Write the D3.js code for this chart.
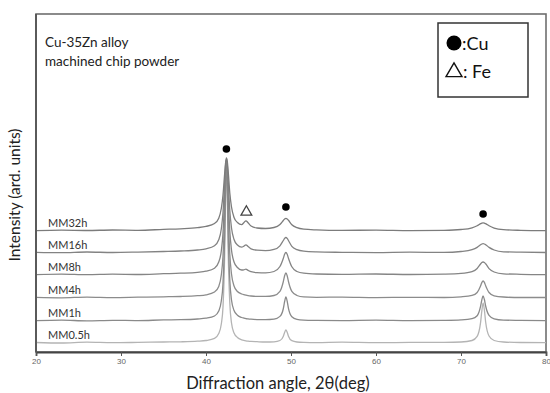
<!DOCTYPE html>
<html><head><meta charset="utf-8">
<script src="https://cdn.jsdelivr.net/npm/d3@7"></script>
<style>body{margin:0;background:#fff} svg{display:block}</style>
</head><body><svg id="c" width="550" height="393"></svg>
<script>
// 2theta sample positions (deg)
const angles = [20,23,26,29,32,35,37,39,40,41,41.5,41.8,42.0,42.2,42.3,42.4,42.5,42.6,42.8,43.0,43.3,43.7,44.2,44.45,44.7,44.95,45.3,46,47,48,48.7,49.1,49.25,49.4,49.55,49.7,50.1,50.7,51.5,53,56,60,64,68,70,71.3,71.9,72.3,72.45,72.6,72.75,72.9,73.3,73.9,75,77,80];
const seriesNames = ["MM0.5h","MM1h","MM4h","MM8h","MM16h","MM32h"];
const seriesOffsets = [9,31,54,77,99,121];
const seriesColors = ["#b4b4b4","#8a8a8a","#8c8c8c","#858585","#838383","#7c7c7c"];
const mm05 = [0.5,0,0.8,0.3,0.6,1,1.2,1.8,2.5,4.6,9.5,19,36,90,144,180,150,95,40,20,10,5.5,3.2,2.6,2.2,1.9,1.6,1.3,1.0,1.2,2.5,6.8,10.6,13.2,10.8,6.8,2.3,1.0,0.6,0.4,0.8,0.3,0.6,0.7,1.0,2.5,6.6,20.3,32,40,33,21,7,2.5,1,0.5,0.4];
const mm1 = [0.3,0.8,0.2,0.7,0.4,1.1,1.3,2,2.8,5,10,20,37.5,87,132,159,135,92,41,21,10.5,5.8,3.5,2.9,2.4,2.1,1.8,1.4,1.3,1.8,4.6,12.5,19.5,24,19.8,12.6,4.2,1.6,0.9,0.6,0.4,0.8,0.3,0.6,1.1,2.3,5.2,14.6,21,25,21.5,15,5.6,2.2,0.9,0.6,0.3];
const mm4 = [0.6,0.2,0.9,0.4,0.8,1.2,1.5,2.3,3.2,6,11.6,23,42,86,119,137,122,90,44,24,12,6.5,4,3.3,2.8,2.4,2,1.6,1.6,2.5,6.6,16.5,22.2,25.2,22.3,16.5,6.6,2.5,1.1,0.7,0.9,0.4,0.7,0.5,1.2,2.6,5.5,12,15.4,17,15.6,12.3,5.5,2.2,1,0.5,0.5];
const mm8 = [0.4,0.9,0.3,0.8,0.5,1.3,1.8,2.7,3.8,6.8,13,24,42,80,103.5,115,105,83,44,25,13,7.5,5,5.2,5.8,4.7,3.3,2.4,2.2,3.5,8.5,16.8,20.8,22.5,20.8,16.8,8.2,3.5,1.8,1,0.6,1,0.5,0.9,1.6,3.4,6.5,11,12.5,13,12.5,11.2,6.4,3,1.2,0.7,0.4];
const mm16 = [0.7,0.3,1,0.5,0.9,1.5,2,3,4.2,7.2,13.2,24,40.5,71,87,94,89,74,42.5,25,13.5,8,5.8,6.8,8.2,6.5,4.2,2.8,2.4,3.6,7.2,12.5,14.6,15.5,14.6,12.5,6.7,3.3,1.8,1.1,0.7,0.4,0.8,0.6,1.5,3.3,5.6,8.2,9,9.3,9,8.3,5.6,3,1.2,0.8,0.5];
const mm32 = [0.3,0.8,0.5,1,0.7,1.6,2.2,3.3,4.6,7.5,12.8,22.5,36,58,68,73,70,61,38,24,13.5,8.5,6.3,8.3,10.2,8.2,5,3,2.5,3.5,6.5,10.5,12,12.7,12.1,10.7,6.3,3.3,1.8,1.1,0.6,0.9,0.4,0.7,1.5,3.2,5.2,7.3,7.9,8.1,7.9,7.3,5.2,2.9,1.3,0.7,0.4];
const seriesValues = [mm05, mm1, mm4, mm8, mm16, mm32];
const xTicks = [20,30,40,50,60,70,80];
const xMinorTicks = d3.range(20,81,1);
const cuMarks = [{angle:42.4, level:203},{angle:49.4, level:145},{angle:72.6, level:138}];
const feMarks = [{angle:44.75, level:140}];
const titleLines = ["Cu-35Zn alloy","machined chip powder"];

const svg = d3.select("#c");
const L=36, R=546, T=14, B=352;
const x = d3.scaleLinear().domain([20,80]).range([L,R]);
const y = d3.scaleLinear().domain([0,340]).range([B,12]);

svg.append("defs").append("clipPath").attr("id","pc")
  .append("rect").attr("x",L).attr("y",T).attr("width",R-L).attr("height",B-T);

// frame
svg.append("rect").attr("x",L).attr("y",T).attr("width",R-L).attr("height",B-T)
  .attr("fill","none").attr("stroke","#6e6e6e").attr("stroke-width",1.6);

// traces
const line = d3.line().x(d=>x(d[0])).y(d=>y(d[1])).curve(d3.curveMonotoneX);
const g = svg.append("g").attr("clip-path","url(#pc)");
seriesValues.forEach((vals,i)=>{
  const pts = angles.map((a,k)=>[a, vals[k]+seriesOffsets[i]]);
  g.append("path").datum(pts).attr("d",line).attr("fill","none")
    .attr("stroke",seriesColors[i]).attr("stroke-width",1.3);
});

// series labels
svg.selectAll("text.lab").data(seriesNames).join("text").attr("class","lab")
  .attr("x",48).attr("y",(d,i)=>y(seriesOffsets[i])-4.5)
  .attr("font-family","Lato, 'Open Sans', sans-serif").attr("font-size",11).attr("fill","#333")
  .text(d=>d);

// markers
svg.selectAll("circle.cu").data(cuMarks).join("circle").attr("class","cu")
  .attr("cx",d=>x(d.angle)).attr("cy",d=>y(d.level)).attr("r",3.8).attr("fill","#000");
const tri = d3.symbol().type(d3.symbolTriangle).size(50);
svg.selectAll("path.fe").data(feMarks).join("path").attr("class","fe")
  .attr("d",tri).attr("transform",d=>`translate(${x(d.angle)},${y(d.level)})`)
  .attr("fill","none").attr("stroke","#444").attr("stroke-width",1.3);

// x axis
const ax = svg.append("g").attr("transform",`translate(0,${B})`);
ax.call(d3.axisBottom(x).tickValues(xMinorTicks).tickSize(2.5).tickFormat(""));
ax.call(d3.axisBottom(x).tickValues(xTicks).tickSize(4).tickFormat(d3.format("d")));
ax.selectAll(".domain").attr("stroke","#444").attr("stroke-width",1.8);
ax.selectAll(".tick line").attr("stroke","#555");
ax.selectAll("text").attr("font-family","Arial, sans-serif").attr("font-size",8).attr("fill","#666").attr("dy","0.6em");

// left axis line
svg.append("line").attr("x1",L).attr("x2",L).attr("y1",T).attr("y2",B)
  .attr("stroke","#555").attr("stroke-width",1.8);

// title
svg.selectAll("text.ttl").data(titleLines).join("text").attr("class","ttl")
  .attr("x",45).attr("y",(d,i)=>47+i*18.5)
  .attr("font-family","Lato, 'Open Sans', sans-serif").attr("font-size",13.5).attr("fill","#222")
  .text(d=>d);

// axis titles
svg.append("text").attr("x",278).attr("y",389).attr("text-anchor","middle")
  .attr("font-family","Lato, 'Open Sans', sans-serif").attr("font-size",16.5).attr("fill","#222")
  .text("Diffraction angle, 2θ(deg)");
svg.append("text").attr("transform","translate(20,195) rotate(-90)").attr("text-anchor","middle")
  .attr("font-family","Lato, 'Open Sans', sans-serif").attr("font-size",15.5).attr("fill","#222")
  .text("Intensity (ard. units)");

// legend
const lg = svg.append("g");
lg.append("rect").attr("x",438).attr("y",23).attr("width",90).attr("height",74)
  .attr("fill","#fff").attr("stroke","#333").attr("stroke-width",1.5);
lg.append("circle").attr("cx",454).attr("cy",43).attr("r",7.5).attr("fill","#000");
lg.append("text").attr("x",462).attr("y",50).attr("font-family","Lato, 'Open Sans', sans-serif")
  .attr("font-size",18).attr("fill","#111").text(":Cu");
lg.append("path").attr("d",d3.symbol().type(d3.symbolTriangle).size(110))
  .attr("transform","translate(454,72)").attr("fill","none").attr("stroke","#111").attr("stroke-width",1.4);
lg.append("text").attr("x",463).attr("y",78).attr("font-family","Lato, 'Open Sans', sans-serif")
  .attr("font-size",18).attr("fill","#111").text(": Fe");
</script></body></html>
